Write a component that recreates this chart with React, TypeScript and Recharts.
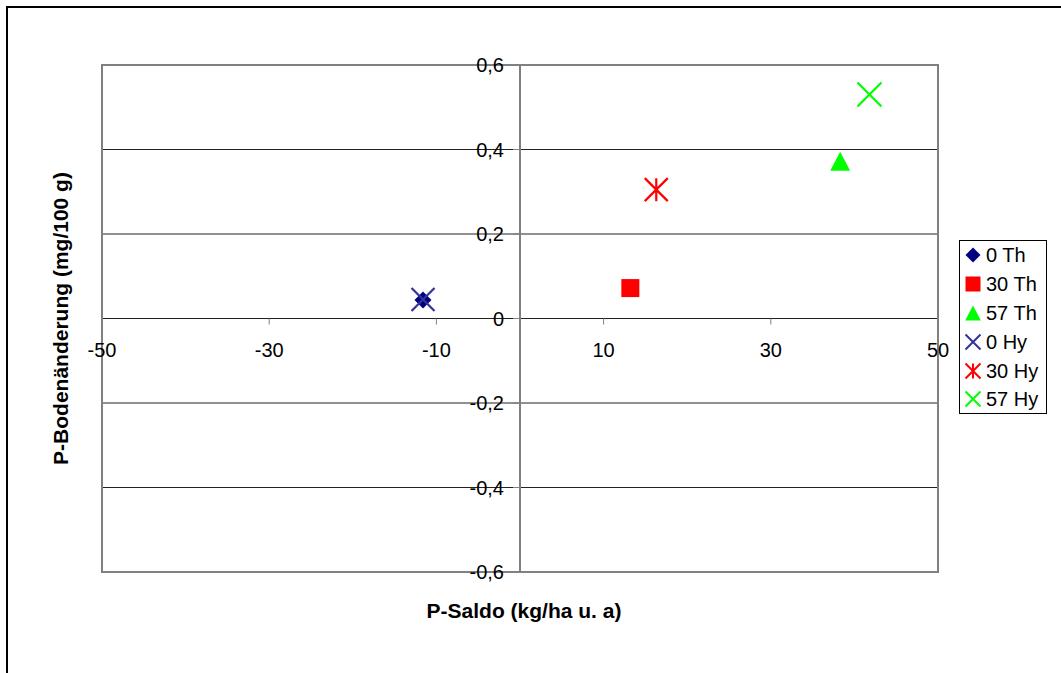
import React from 'react';
import {
    ScatterChart,
    Scatter,
    XAxis,
    YAxis,
    CartesianGrid,
    ReferenceLine,
    ReferenceArea
} from 'recharts';

// series, in legend order
const seriesNames = ['0 Th', '30 Th', '57 Th', '0 Hy', '30 Hy', '57 Hy'];
const seriesColors = ['#000080', '#ff0000', '#00ff00', '#333399', '#ff0000', '#00ff00'];
const seriesMarkers = ['diamond', 'square', 'triangle', 'x', 'star', 'x'];
const seriesMarkerSize = [8.5, 9, 9.5, 11.5, 11.5, 12];

// P-Saldo (kg/ha u. a) and P-Bodenänderung (mg/100 g)
const pSaldo = [-11.6, 13.2, 38.3, -11.6, 16.3, 41.8];
const pBodenaenderung = [0.044, 0.072, 0.372, 0.045, 0.305, 0.53];

const xTicks = [-50, -30, -10, 10, 30, 50];
const yTicks = [-0.6, -0.4, -0.2, 0, 0.2, 0.4, 0.6];

const W = 1061;
const H = 673;
const X_AXIS_H = 30;
const Y_AXIS_W = 60;
// plot area: x 102..938, y 65..572
const M = { top: 65, right: 123, bottom: 101 - X_AXIS_H, left: 102 - Y_AXIS_W };
const PLOT_LEFT = M.left + Y_AXIS_W;
const PLOT_W = W - PLOT_LEFT - M.right;
const PLOT_H = H - M.top - M.bottom - X_AXIS_H;
// axes cross at the origin, the middle of both symmetric domains
const AXIS_Y = M.top + PLOT_H / 2;
const AXIS_X = PLOT_LEFT + PLOT_W / 2;
const FONT = '"Liberation Sans", Arial, sans-serif';

const fmtY = (v: number) => (v === 0 ? '0' : v.toFixed(1).replace('.', ','));

function Marker({ kind, cx, cy, r, color, sw = 2.2 }: any) {
    switch (kind) {
        case 'diamond':
            return <polygon points={`${cx},${cy - r} ${cx + r},${cy} ${cx},${cy + r} ${cx - r},${cy}`} fill={color} />;
        case 'square':
            return <rect x={cx - r} y={cy - r} width={2 * r} height={2 * r} fill={color} />;
        case 'triangle':
            return <polygon points={`${cx},${cy - r} ${cx + r * 1.05},${cy + r} ${cx - r * 1.05},${cy + r}`} fill={color} />;
        case 'x':
            return (
                <path
                    d={`M${cx - r},${cy - r}L${cx + r},${cy + r}M${cx + r},${cy - r}L${cx - r},${cy + r}`}
                    stroke={color}
                    strokeWidth={sw}
                    fill="none"
                />
            );
        default:
            return (
                <path
                    d={`M${cx - r},${cy - r}L${cx + r},${cy + r}M${cx + r},${cy - r}L${cx - r},${cy + r}M${cx},${cy - r}L${cx},${cy + r}`}
                    stroke={color}
                    strokeWidth={sw}
                    fill="none"
                />
            );
    }
}

function XTick({ x, payload }: any) {
    return (
        <g>
            <line x1={x} x2={x} y1={AXIS_Y} y2={AXIS_Y + 6} stroke="#808080" />
            <text x={x} y={AXIS_Y + 38} textAnchor="middle" fontSize={20} fontFamily={FONT} fill="#000">
                {payload.value}
            </text>
        </g>
    );
}

function YTick({ y, payload }: any) {
    return (
        <g>
            <line x1={AXIS_X - 7} x2={AXIS_X} y1={y} y2={y} stroke="#808080" />
            <text x={AXIS_X - 16} y={y} dy="0.36em" textAnchor="end" fontSize={20} fontFamily={FONT} fill="#000">
                {fmtY(payload.value)}
            </text>
        </g>
    );
}

function XTitle() {
    return (
        <text x={AXIS_X + 4} y={M.top + PLOT_H + 46} textAnchor="middle" fontSize={21} fontWeight="bold" fontFamily={FONT} fill="#000">
            P-Saldo (kg/ha u. a)
        </text>
    );
}

function YTitle() {
    return (
        <text
            transform={`translate(${PLOT_LEFT - 34},${AXIS_Y}) rotate(-90)`}
            textAnchor="middle"
            fontSize={21}
            fontWeight="bold"
            fontFamily={FONT}
            fill="#000"
        >
            P-Bodenänderung (mg/100 g)
        </text>
    );
}

function ChartLegend() {
    return (
        <div
            style={{
                position: 'absolute',
                left: 959,
                top: 240,
                border: '1px solid #000',
                width: 86,
                height: 172,
                background: '#fff',
                fontFamily: FONT,
                fontSize: 20,
                color: '#000'
            }}
        >
            {seriesNames.map((name, i) => (
                <div key={name} style={{ display: 'flex', alignItems: 'center', height: 28.8 }}>
                    <svg width={26} height={20} style={{ display: 'block' }}>
                        <Marker kind={seriesMarkers[i]} cx={13} cy={10} r={7.5} color={seriesColors[i]} sw={2} />
                    </svg>
                    <span style={{ lineHeight: '20px' }}>{name}</span>
                </div>
            ))}
        </div>
    );
}

export default function App() {
    return (
        <div style={{ position: 'absolute', left: 0, top: 0, width: W, height: H, background: '#fff', overflow: 'hidden' }}>
            <div
                style={{
                    position: 'absolute',
                    left: 6,
                    top: 6,
                    width: W,
                    height: H,
                    borderLeft: '2px solid #000',
                    borderTop: '2px solid #000'
                }}
            />
            <div style={{ position: 'absolute', left: 0, top: 0 }}>
                <ScatterChart width={W} height={H} margin={M}>
                    <CartesianGrid vertical={false} stroke="#222" />
                    <ReferenceArea x1={-50} x2={50} y1={-0.6} y2={0.6} fill="none" stroke="#808080" strokeWidth={2} />
                    <ReferenceLine x={0} stroke="#808080" strokeWidth={2} />
                    <XAxis
                        type="number"
                        dataKey="x"
                        domain={[-50, 50]}
                        ticks={xTicks}
                        interval={0}
                        height={X_AXIS_H}
                        axisLine={false}
                        tickLine={false}
                        tick={(p: any) => <XTick {...p} />}
                    />
                    <YAxis
                        type="number"
                        dataKey="y"
                        domain={[-0.6, 0.6]}
                        ticks={yTicks}
                        interval={0}
                        width={Y_AXIS_W}
                        axisLine={false}
                        tickLine={false}
                        tick={(p: any) => <YTick {...p} />}
                    />
                    {seriesNames.map((name, i) => (
                        <Scatter
                            key={name}
                            name={name}
                            data={[{ x: pSaldo[i], y: pBodenaenderung[i] }]}
                            fill={seriesColors[i]}
                            isAnimationActive={false}
                            shape={(p: any) => (
                                <Marker
                                    kind={seriesMarkers[i]}
                                    cx={p.cx}
                                    cy={p.cy}
                                    r={seriesMarkerSize[i]}
                                    color={seriesColors[i]}
                                />
                            )}
                        />
                    ))}
                </ScatterChart>
            </div>
            <svg width={W} height={H} style={{ position: 'absolute', left: 0, top: 0, pointerEvents: 'none' }}>
                <XTitle />
                <YTitle />
            </svg>
            <ChartLegend />
        </div>
    );
}
